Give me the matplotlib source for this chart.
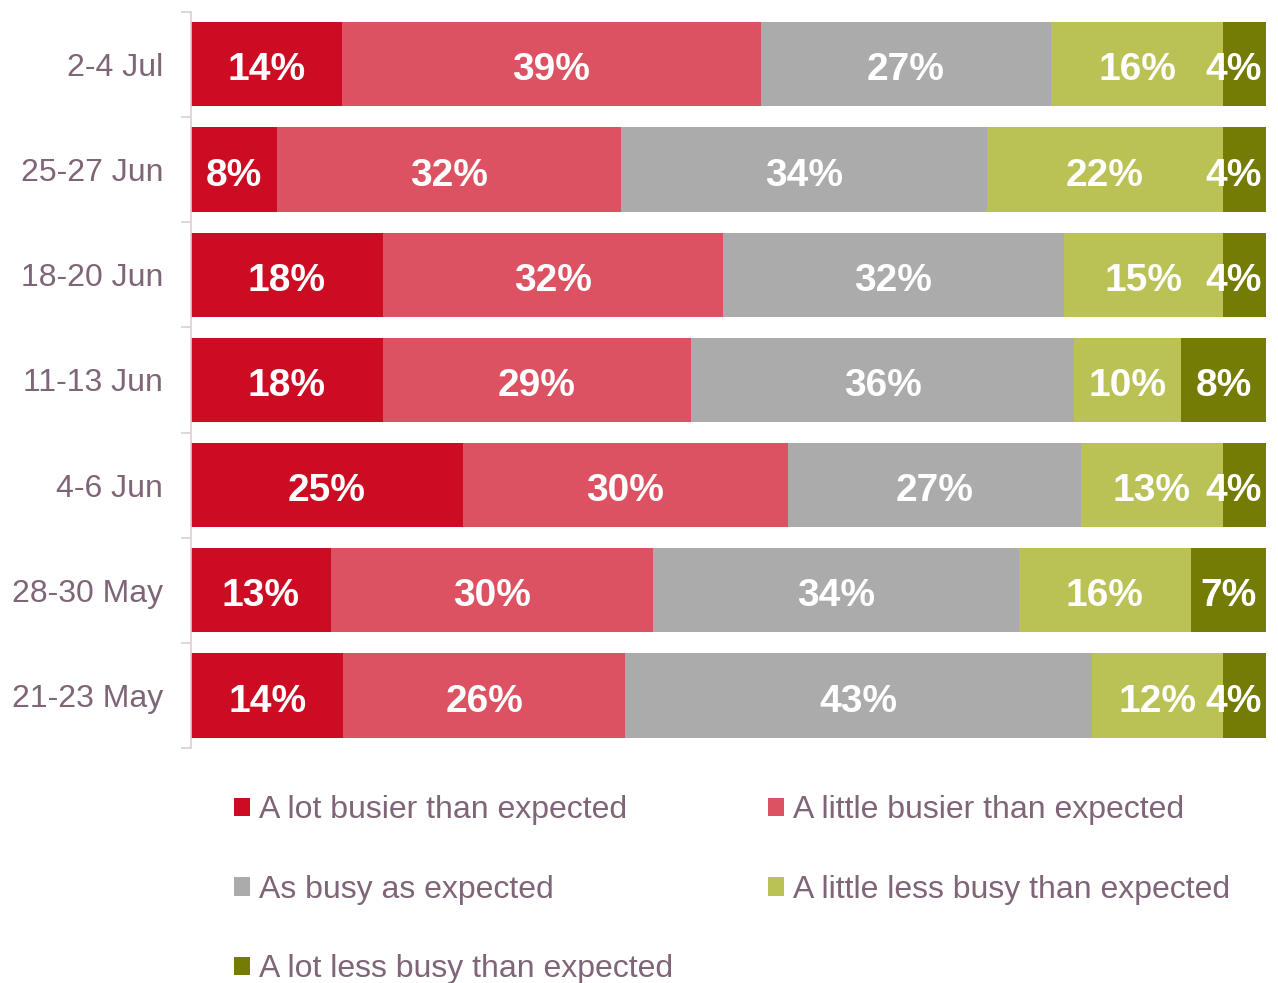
import numpy as np
import matplotlib.pyplot as plt
from matplotlib.patches import Patch

plt.rcParams['font.family'] = ['Liberation Sans', 'DejaVu Sans']

# Data (top to bottom as shown)
periods = ["2-4 Jul", "25-27 Jun", "18-20 Jun", "11-13 Jun", "4-6 Jun", "28-30 May", "21-23 May"]
lot_busier = [14, 8, 18, 18, 25, 13, 14]
little_busier = [39, 32, 32, 29, 30, 30, 26]
as_expected = [27, 34, 32, 36, 27, 34, 43]
little_less = [16, 22, 15, 10, 13, 16, 12]
lot_less = [4, 4, 4, 8, 4, 7, 4]

series_names = ["A lot busier than expected", "A little busier than expected",
                "As busy as expected", "A little less busy than expected",
                "A lot less busy than expected"]
colors = ["#CC0C22", "#DC5262", "#ABABAB", "#BAC155", "#757C06"]
text_col = "#7F6577"

data = np.array([lot_busier, little_busier, as_expected, little_less, lot_less], dtype=float)
shares = data / data.sum(axis=0) * 100

fig = plt.figure(figsize=(12.78, 9.83), dpi=100)
ax = fig.add_axes([0.1495, 0.239, 0.8411, 0.749])

y = np.arange(len(periods))
left = np.zeros(len(periods))
for i in range(len(series_names)):
    ax.barh(y, shares[i], left=left, height=0.8, color=colors[i], label=series_names[i])
    for j in range(len(periods)):
        xc = left[j] + shares[i][j] / 2
        ha = "center"
        # small last segment: keep the label inside the plot
        if i == len(series_names) - 1 and shares[i][j] < 6:
            xc, ha = 99.6, "right"
        ax.text(xc, y[j] + 0.02, f"{int(data[i][j])}%", ha=ha, va="center_baseline",
                color="white", fontsize=28, fontweight="bold")
    left += shares[i]

ax.set_xlim(0, 100)
ax.set_ylim(len(periods) - 0.5, -0.5)
ax.set_yticks(y)
ax.set_yticklabels(periods, fontsize=23, color=text_col)
ax.set_yticks(np.arange(-0.5, len(periods)), minor=True)
ax.tick_params(axis="y", which="major", length=0, pad=20)
ax.tick_params(axis="y", which="minor", length=7, width=1.2, color="#D9D0D5")
ax.set_xticks([])
for s in ["top", "right", "bottom"]:
    ax.spines[s].set_visible(False)
ax.spines["left"].set_color("#D9D0D5")
ax.spines["left"].set_linewidth(1.2)

# legend: column-major order to match the layout
order = [0, 2, 4, 1, 3]
handles = [Patch(facecolor=colors[k], edgecolor="none") for k in order]
labels = [series_names[k] for k in order]
fig.legend(handles, labels, ncol=2, loc="upper left", bbox_to_anchor=(0.183, 0.191),
           frameon=False, fontsize=23, labelcolor=text_col, handlelength=0.5,
           handleheight=0.5, handletextpad=0.3, columnspacing=2.95, labelspacing=1.55,
           borderaxespad=0, borderpad=0)

fig.savefig("out.png", dpi=100)
